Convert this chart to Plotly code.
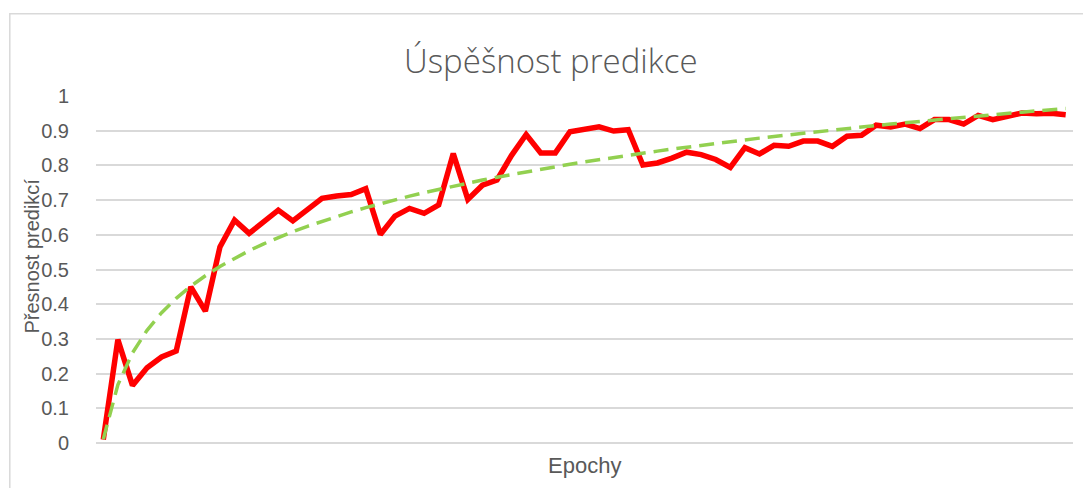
import numpy as np
import plotly.graph_objects as go

epochs = list(range(1, 68))
accuracy = [
    0.01, 0.298, 0.166, 0.217, 0.248, 0.265, 0.45, 0.38, 0.565, 0.642,
    0.604, 0.637, 0.671, 0.64, 0.673, 0.705, 0.712, 0.716, 0.733, 0.601,
    0.654, 0.676, 0.662, 0.686, 0.834, 0.702, 0.743, 0.758, 0.829, 0.889,
    0.836, 0.836, 0.897, 0.906, 0.911, 0.899, 0.903, 0.801, 0.807, 0.821,
    0.838, 0.831, 0.817, 0.794, 0.851, 0.833, 0.858, 0.855, 0.870, 0.870,
    0.855, 0.884, 0.887, 0.916, 0.911, 0.919, 0.906, 0.932, 0.932, 0.919,
    0.944, 0.932, 0.942, 0.951, 0.949, 0.950, 0.946,
]
y_ticks = [0, 0.1, 0.2, 0.3, 0.4, 0.5, 0.6, 0.7, 0.8, 0.9, 1]
y_tick_labels = ["0", "0.1", "0.2", "0.3", "0.4", "0.5", "0.6", "0.7", "0.8", "0.9", "1"]

# Logarithmic trendline (least squares of y on ln x), as Excel computes it
x_arr = np.array(epochs, dtype=float)
a, b = np.polyfit(np.log(x_arr), np.array(accuracy), 1)
trend = a * np.log(x_arr) + b

# the page body has an 8px margin, so screen positions are offset by 8px
OFF = 8
W, H = 1091, 488
L = 95.7 - OFF
T = 95.7 - OFF
R = W - (1072.7 - OFF)
B = H - (442.7 - OFF)
pw = W - L - R
ph = H - T - B

fig = go.Figure()
fig.add_trace(go.Scatter(
    x=epochs, y=accuracy, mode="lines",
    line=dict(color="#FF0000", width=5.5, shape="linear"),
    showlegend=False, hoverinfo="skip",
))
fig.add_trace(go.Scatter(
    x=epochs, y=trend, mode="lines",
    line=dict(color="#92D050", width=3.5, dash="15px,8px"),
    showlegend=False, hoverinfo="skip",
))

grey = "#595959"
fig.update_layout(
    width=W, height=H,
    margin=dict(l=L, r=R, t=T, b=B, autoexpand=False),
    paper_bgcolor="white", plot_bgcolor="white",
    font=dict(family="Liberation Sans, Arial, sans-serif", color=grey),
    xaxis=dict(
        range=[0.5, 67.5], showticklabels=False, showgrid=False,
        zeroline=False, showline=False, ticks="", fixedrange=True,
    ),
    yaxis=dict(
        range=[0, 1.0], tickvals=y_ticks, ticktext=y_tick_labels,
        showgrid=True, gridcolor="#D9D9D9", gridwidth=1.5,
        zeroline=True, zerolinecolor="#D9D9D9", zerolinewidth=1.5,
        showline=False, ticks="outside", ticklen=22, tickcolor="rgba(0,0,0,0)",
        tickfont=dict(size=20, color=grey, family="Liberation Sans, Arial, sans-serif"),
        fixedrange=True,
    ),
)

def px_x(px):
    return (px - OFF - L) / pw

def px_y(py):
    return 1 - (py - OFF - T) / ph

fig.add_annotation(
    text="Úspěšnost predikce", x=px_x(551), y=px_y(60), xref="paper", yref="paper",
    showarrow=False, xanchor="center", yanchor="middle",
    font=dict(size=33, color=grey, family="Open Sans, Liberation Sans, sans-serif", weight=300),
)
fig.add_annotation(
    text="Přesnost predikcí", x=px_x(32), y=px_y(256), xref="paper", yref="paper",
    showarrow=False, xanchor="center", yanchor="middle", textangle=-90,
    font=dict(size=20, color=grey, family="Liberation Sans, Arial, sans-serif"),
)
fig.add_annotation(
    text="Epochy", x=px_x(584), y=px_y(465), xref="paper", yref="paper",
    showarrow=False, xanchor="center", yanchor="middle",
    font=dict(size=22, color=grey, family="Liberation Sans, Arial, sans-serif"),
)

# chart area border
fig.add_shape(
    type="rect", xref="paper", yref="paper",
    x0=px_x(9.5), y0=px_y(530), x1=px_x(1130), y1=px_y(13.5),
    line=dict(color="#D9D9D9", width=1.5), fillcolor="rgba(0,0,0,0)", layer="below",
)

fig.write_html("out.html")
